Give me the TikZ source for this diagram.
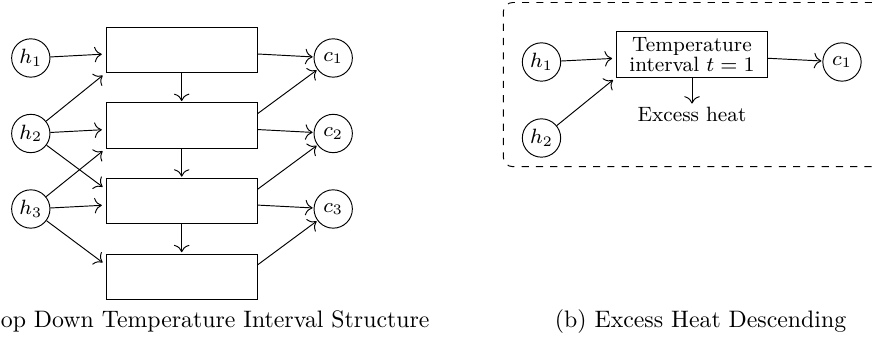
\documentclass[tikz,border=0pt]{standalone}
\usepackage{fix-cm}
\usetikzlibrary{arrows.meta}
\begin{document}
\begin{tikzpicture}[x=0.42pt,y=-0.42pt,
  >={To[scale=1.25]},
  nodefont/.style={font=\fontsize{8.7pt}{7.2pt}\selectfont},
  hc/.style={circle,draw,minimum size=16.1pt,inner sep=0pt,nodefont},
  tbox/.style={draw,rectangle,minimum width=63.5pt,minimum height=19pt,inner sep=1pt,align=center,nodefont},
  inarr/.style={->,shorten >=1.6pt},
  downarr/.style={->,shorten >=0.6pt},
  outarr/.style={->,shorten >=0.4pt},
  captext/.style={font=\normalsize,inner sep=0pt},
  frame/.style={dashed,rounded corners=4pt}]
\useasboundingbox (0,0) rectangle (872,347);
% left figure
\node[hc] (h1) at (30.8,58) {$h_1$};
\node[hc] (h2) at (30.8,133.5) {$h_2$};
\node[hc] (h3) at (30.8,209) {$h_3$};
\node[hc] (c1) at (333.2,58) {$c_1$};
\node[hc] (c2) at (333.2,133.5) {$c_2$};
\node[hc] (c3) at (333.2,209) {$c_3$};
\node[tbox] (t1) at (181.7,50) {};
\node[tbox] (t2) at (181.7,125.6) {};
\node[tbox] (t3) at (181.7,201.2) {};
\node[tbox] (t4) at (181.7,276.8) {};
\draw[inarr] (h1) -- (t1);
\draw[inarr] (h2) -- (t1.south west);
\draw[inarr] (h2) -- (t2);
\draw[inarr] (h2) -- (t3.171);
\draw[inarr] (h3) -- (t2.south west);
\draw[inarr] (h3) -- (t3);
\draw[inarr] (h3) -- (t4.171);
\draw[outarr] (t1) -- (c1);
\draw[outarr] (t2.9) -- (c1);
\draw[outarr] (t2) -- (c2);
\draw[outarr] (t3.9) -- (c2);
\draw[outarr] (t3) -- (c3);
\draw[outarr] (t4.9) -- (c3);
\draw[downarr] (t1) -- (t2);
\draw[downarr] (t2) -- (t3);
\draw[downarr] (t3) -- (t4);
\node[captext,anchor=base east] (capa) at (430,328) {op Down Temperature Interval Structure};
% right figure
\draw[frame] (872,2.5) -- (503.3,2.5) -- (503.3,166.7) -- (872,166.7);
\node[hc] (rh1) at (541.5,62) {$h_1$};
\node[hc] (rh2) at (541.5,138) {$h_2$};
\node[tbox] (rt) at (692,54.5) {Temperature\\interval $t=1$};
\node[hc] (rc1) at (842,62) {$c_1$};
\node[nodefont,inner sep=0.5pt] (ex) at (692,114) {Excess heat};
\draw[inarr] (rh1) -- (rt);
\draw[inarr] (rh2) -- (rt.south west);
\draw[outarr] (rt) -- (rc1);
\draw[downarr] (rt) -- (ex);
\node[captext,anchor=base east] (capb) at (846.7,328) {(b) Excess Heat Descending};
\end{tikzpicture}
\end{document}
